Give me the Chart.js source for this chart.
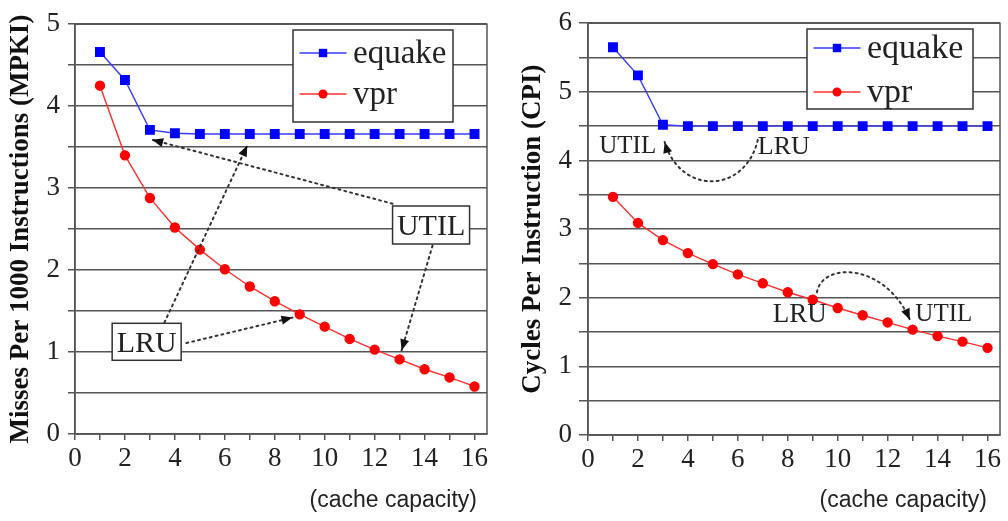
<!DOCTYPE html>
<html><head><meta charset="utf-8">
<script src="https://cdn.jsdelivr.net/npm/chart.js@4.4.0/dist/chart.umd.min.js"></script>
<style>
html,body{margin:0;padding:0;background:#fff;}
#wrap{position:relative;width:1008px;height:521px;overflow:hidden;background:#fff}
#c1{position:absolute;left:0;top:0}
#c2{position:absolute;left:504px;top:0}
</style></head><body>
<div id="wrap"><canvas id="c1" width="500" height="521"></canvas><canvas id="c2" width="504" height="521"></canvas></div>
<script>
// ---- data ----
const capacity = [1,2,3,4,5,6,7,8,9,10,11,12,13,14,15,16];
const seriesNames = ['equake','vpr'];
const mpkiEquake = [4.66,4.32,3.71,3.67,3.66,3.66,3.66,3.66,3.66,3.66,3.66,3.66,3.66,3.66,3.66,3.66];
const mpkiVpr    = [4.25,3.40,2.88,2.52,2.25,2.01,1.80,1.62,1.46,1.31,1.16,1.03,0.91,0.79,0.69,0.58];
const cpiEquake  = [5.65,5.24,4.52,4.50,4.50,4.50,4.50,4.50,4.50,4.50,4.50,4.50,4.50,4.50,4.50,4.50];
const cpiVpr     = [3.47,3.09,2.84,2.65,2.49,2.34,2.21,2.08,1.97,1.85,1.745,1.64,1.535,1.44,1.36,1.27];
const xTickLabels = ['0','2','4','6','8','10','12','14','16'];
const mpkiTickLabels = ['0','1','2','3','4','5'];
const cpiTickLabels = ['0','1','2','3','4','5','6'];
const yTitleLeft = 'Misses Per 1000 Instructions (MPKI)';
const yTitleRight = 'Cycles Per Instruction (CPI)';
const xTitle = '(cache capacity)';

const SERIF = '"Liberation Serif", "Times New Roman", serif';
const GRID = '#555';

function pts(ys){ return capacity.map((x,i)=>({x:x,y:ys[i]})); }

function datasets(eq, vp){
  return [
    {label:seriesNames[0], data:pts(eq), borderColor:'#3a3aff', backgroundColor:'#0000ff', pointBackgroundColor:'#0000ff', pointBorderColor:'#0000ff', pointStyle:'rect', pointRadius:6, borderWidth:1.4, tension:0},
    {label:seriesNames[1], data:pts(vp), borderColor:'#ff3030', backgroundColor:'#ff0000', pointBackgroundColor:'#ff0000', pointBorderColor:'#ff0000', pointStyle:'circle', pointRadius:4.5, borderWidth:1.4, tension:0}
  ];
}

function drawArrowHead(ctx, fx, fy, tx, ty){
  const a = Math.atan2(ty-fy, tx-fx);
  const L = 11, W = 4.5;
  ctx.save();
  ctx.setLineDash([]);
  ctx.fillStyle = '#111';
  ctx.beginPath();
  ctx.moveTo(tx, ty);
  ctx.lineTo(tx - L*Math.cos(a) + W*Math.sin(a), ty - L*Math.sin(a) - W*Math.cos(a));
  ctx.lineTo(tx - L*Math.cos(a) - W*Math.sin(a), ty - L*Math.sin(a) + W*Math.cos(a));
  ctx.closePath();
  ctx.fill();
  ctx.restore();
}

const decorPlugin = {
  id:'decor',
  afterDraw(chart, args, opts){
    const ctx = chart.ctx, ca = chart.chartArea;
    const xs = chart.scales.x, ys = chart.scales.y;
    const P = (p)=>[xs.getPixelForValue(p[0]), ys.getPixelForValue(p[1])];
    ctx.save();
    // frame
    ctx.strokeStyle = GRID; ctx.lineWidth = 1.5;
    ctx.strokeRect(ca.left, ca.top, ca.right-ca.left, ca.bottom-ca.top);
    // arrows
    ctx.strokeStyle = '#333'; ctx.lineWidth = 2; ctx.setLineDash([2,4]); ctx.lineCap='round';
    (opts.arrows||[]).forEach(a=>{
      const f = P(a.from), t = P(a.to);
      ctx.beginPath(); ctx.moveTo(f[0], f[1]);
      let pre = f;
      if (a.c1){ const c1=P(a.c1), c2=P(a.c2); ctx.bezierCurveTo(c1[0],c1[1],c2[0],c2[1],t[0],t[1]); pre=c2; }
      else ctx.lineTo(t[0], t[1]);
      ctx.stroke();
      drawArrowHead(ctx, pre[0], pre[1], t[0], t[1]);
    });
    ctx.setLineDash([]);
    // boxed labels
    (opts.boxes||[]).forEach(b=>{
      const c = P(b.at);
      ctx.fillStyle='#fff'; ctx.strokeStyle='#333'; ctx.lineWidth=1.5;
      ctx.fillRect(c[0]-b.w/2, c[1]-b.h/2, b.w, b.h);
      ctx.strokeRect(c[0]-b.w/2, c[1]-b.h/2, b.w, b.h);
      ctx.fillStyle='#222'; ctx.font = b.size+'px '+SERIF; ctx.textAlign='center'; ctx.textBaseline='middle';
      ctx.fillText(b.text, c[0], c[1]+2);
    });
    // plain labels
    (opts.labels||[]).forEach(b=>{
      const c = P(b.at);
      ctx.fillStyle='#222'; ctx.font = b.size+'px '+SERIF; ctx.textAlign='center'; ctx.textBaseline='middle';
      ctx.fillText(b.text, c[0], c[1]);
    });
    // legend
    const lg = opts.legend;
    ctx.fillStyle='#fff'; ctx.strokeStyle='#333'; ctx.lineWidth=1.5;
    ctx.fillRect(lg.x, lg.y, lg.w, lg.h); ctx.strokeRect(lg.x, lg.y, lg.w, lg.h);
    chart.data.datasets.forEach((ds,i)=>{
      const ry = lg.rows[i];
      const lx = lg.x + 7;
      ctx.strokeStyle = ds.borderColor; ctx.lineWidth = 1.4;
      ctx.beginPath(); ctx.moveTo(lx, ry); ctx.lineTo(lx+46, ry); ctx.stroke();
      ctx.fillStyle = ds.pointBackgroundColor;
      if (ds.pointStyle==='rect'){ ctx.fillRect(lx+23-4.2, ry-4.2, 8.4, 8.4); }
      else { ctx.beginPath(); ctx.arc(lx+23, ry, 4.5, 0, Math.PI*2); ctx.fill(); }
      ctx.fillStyle='#222'; ctx.font = lg.size+'px '+SERIF; ctx.textAlign='left'; ctx.textBaseline='middle';
      ctx.fillText(ds.label, lx+53, ry+1);
    });
    // x title
    ctx.fillStyle='#222'; ctx.font='23px "Liberation Sans", Arial, sans-serif'; ctx.textAlign='right'; ctx.textBaseline='middle';
    ctx.fillText(xTitle, opts.xTitleRight, 501);
    ctx.restore();
  }
};

function makeChart(id, eq, vp, ymax, yLabels, yTitle, geo, decor){
  return new Chart(document.getElementById(id), {
    type:'line',
    data:{datasets:datasets(eq, vp)},
    options:{
      responsive:false, animation:false, devicePixelRatio:1,
      layout:{padding:{top:geo.top, right:geo.right, left:0, bottom:0}},
      plugins:{legend:{display:false}, tooltip:{enabled:false}, decor:decor},
      scales:{
        x:{type:'linear', min:0, max:16.5, bounds:'data',
           afterFit:(s)=>{ s.height = geo.xh; },
           grid:{drawOnChartArea:false, drawTicks:true, tickLength:6, color:GRID, lineWidth:1.5},
           border:{display:true, color:GRID, width:1.5},
           ticks:{stepSize:1, includeBounds:false, autoSkip:false, maxRotation:0, padding:3, color:'#222',
                  font:{family:SERIF, size:27},
                  callback:(v)=> xTickLabels.includes(String(v)) ? String(v) : ''}
        },
        y:{type:'linear', min:0, max:ymax,
           afterFit:(s)=>{ s.width = geo.yw; },
           grid:{drawOnChartArea:true, drawTicks:true, tickLength:geo.tl, color:GRID, lineWidth:1.5},
           border:{display:true, color:GRID, width:1.5},
           ticks:{stepSize:0.5, autoSkip:false, padding:geo.tp, color:'#222',
                  font:{family:SERIF, size:27},
                  callback:(v)=> yLabels.includes(String(v)) ? String(v) : ''},
           title:{display:true, text:yTitle, color:'#111', padding:{top:geo.titlePad, bottom:0},
                  font:{family:SERIF, size:27, weight:'bold'}}
        }
      }
    },
    plugins:[decorPlugin]
  });
}

makeChart('c1', mpkiEquake, mpkiVpr, 5, mpkiTickLabels, yTitleLeft,
  {top:23, right:13, xh:87, yw:75, tl:7, tp:8, titlePad:5},
  {
    legend:{x:293, y:30, w:160, h:92, rows:[53,94], size:33},
    xTitleRight:477,
    boxes:[{text:'UTIL', at:[14.26,2.55], w:77, h:38, size:30},
           {text:'LRU', at:[2.87,1.125], w:69, h:37, size:30}],
    arrows:[{from:[12.72,2.81], to:[3.09,3.59]},
            {from:[14.32,2.30], to:[13.08,1.02]},
            {from:[3.58,1.36], to:[6.9,3.52]},
            {from:[4.46,1.11], to:[8.71,1.42]}]
  });

makeChart('c2', cpiEquake, cpiVpr, 6, cpiTickLabels, yTitleRight,
  {top:23, right:8, xh:86, yw:84, tl:9, tp:7, titlePad:13},
  {
    legend:{x:303, y:29, w:166, h:80, rows:[48,92], size:34},
    xTitleRight:483,
    labels:[{text:'UTIL', at:[1.59,4.20], size:25},
            {text:'LRU', at:[7.84,4.20], size:26},
            {text:'LRU', at:[8.48,1.75], size:27},
            {text:'UTIL', at:[14.25,1.75], size:25}],
    arrows:[{from:[6.80,4.30], c1:[6.28,3.50], c2:[3.68,3.50], to:[3.07,4.27]},
            {from:[9.17,2.08], c1:[9.37,2.52], c2:[11.89,2.52], to:[12.89,1.68]}]
  });
</script>
</body></html>
